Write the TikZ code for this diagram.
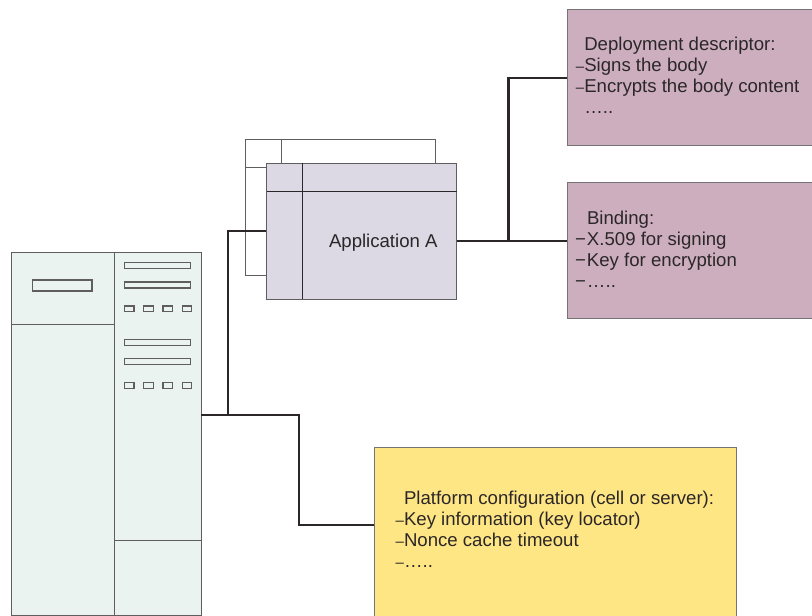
\documentclass[tikz,border=0pt]{standalone}
\usepackage{fontspec}
\setmainfont{Liberation Sans}
\definecolor{servercol}{HTML}{EAF3F0}
\definecolor{appcol}{HTML}{DCD8E4}
\definecolor{pinkcol}{HTML}{CDAEBE}
\definecolor{yellowcol}{HTML}{FFE685}
\definecolor{inkcol}{HTML}{2B2728}
\tikzset{
  box/.style={draw=inkcol!75,line width=1pt,rectangle,inner sep=0pt,outer sep=0pt},
  slot/.style={box,line width=1.3pt,fill=servercol,minimum width=66pt,minimum height=6pt},
  led/.style={box,line width=1.3pt,fill=servercol,minimum width=9.5pt,minimum height=5.5pt},
  note/.style={box,draw=inkcol!65},
  notetext/.style={inner sep=0pt,outer sep=0pt,anchor=north west,align=left,text=inkcol,
    font=\fontsize{18.6}{20.9}\selectfont},
  wire/.style={draw=inkcol,line width=2.6pt,line cap=butt}
}
\newcommand{\dsh}{\llap{\fontsize{15}{20.9}\selectfont --}}
\newcommand{\mns}{\llap{−\hspace{1pt}}}
\begin{document}
\begin{tikzpicture}[x=1pt,y=-1pt]
\useasboundingbox (0,0) rectangle (812,616);
% server
\node[box,fill=servercol,minimum width=189.5pt,minimum height=362.5pt] (server) at (106.25,433.75) {};
\draw[inkcol!75,line width=1.2pt] (114.5,252.5) -- (114.5,615);
\draw[inkcol!75,line width=1.2pt] (11.5,324.7) -- (114.5,324.7);
\draw[inkcol!75,line width=1.2pt] (114.5,540.7) -- (201,540.7);
\node[box,line width=1.3pt,fill=servercol,minimum width=59.5pt,minimum height=11pt] (display) at (62.25,285.5) {};
\foreach \y in {265.5,285,342.3,361.5}
  \node[slot] (slot\y) at (157.25,\y) {};
\foreach \y in {308.7,385.5}
  \foreach \x in {129.2,148.5,167.8,187}
    \node[led] (led\x\y) at (\x,\y) {};
% application
\node[box,fill=white,minimum width=190pt,minimum height=136pt] (appback) at (340.7,207.3) {};
\draw[inkcol!75,line width=1pt] (281.7,139.3) -- (281.7,167.7);
\draw[inkcol!75,line width=1pt] (245.7,167.7) -- (281.7,167.7);
\coordinate (serverout) at (201,415);
\coordinate (serverjoin) at (228,415);
\coordinate (appin) at (266.5,231);
\draw[wire] (serverjoin) |- (appin);
\node[box,fill=appcol,minimum width=190.2pt,minimum height=135.7pt] (app) at (361.6,231.2) {};
\draw[inkcol,line width=1pt] (302.3,163.3) -- (302.3,299);
\draw[inkcol,line width=1pt] (266.5,191.3) -- (456.7,191.3);
\node[notetext,anchor=base west] (applabel) at (329,247.3) {Application A};
% notes
\node[note,fill=pinkcol,minimum width=260pt,minimum height=135.5pt] (deploy) at (697,77.25) {};
\node[note,fill=pinkcol,minimum width=260pt,minimum height=135.5pt] (binding) at (697,250.25) {};
\node[note,fill=yellowcol,minimum width=362pt,minimum height=190pt] (platform) at (555,542) {};
\node[notetext] (deploytext) at (584.3,36) {\strut Deployment descriptor:\\
  \dsh Signs the body\\
  \dsh Encrypts the body content\\
  …..};
\node[notetext] (bindingtext) at (587,210) {\strut Binding:\\
  \mns X.509 for signing\\
  \mns Key for encryption\\
  \mns …..};
\node[notetext] (platformtext) at (404,490) {\strut Platform configuration (cell or server):\\
  \dsh Key information (key locator)\\
  \dsh Nonce cache timeout\\
  \dsh …..};
% connectors
\coordinate (platformin) at (374,525);
\coordinate (appout) at (456.7,241);
\coordinate (appjoin) at (508.5,241);
\coordinate (bindingin) at (567,241);
\coordinate (deployin) at (567,78);
\draw[wire] (serverout) -- (299,415) |- (platformin);
\draw[wire] (appout) -- (bindingin);
\draw[wire] (appjoin) |- (deployin);
\end{tikzpicture}
\end{document}
